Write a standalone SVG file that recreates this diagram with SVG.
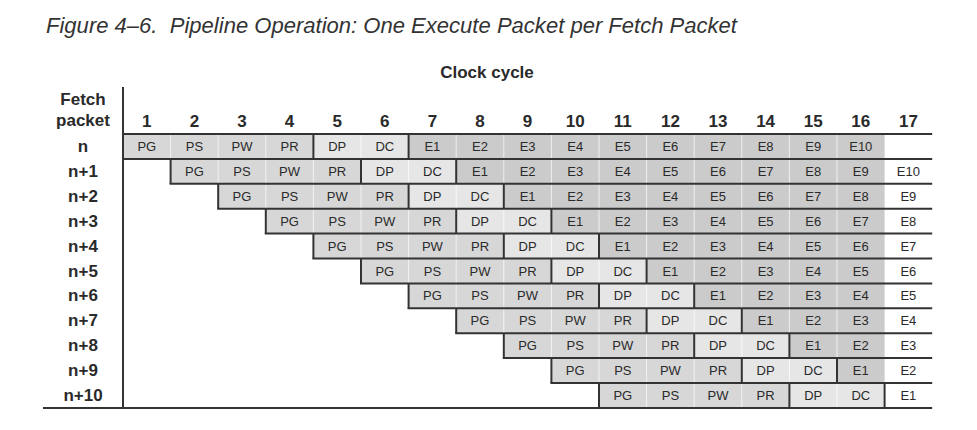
<svg xmlns="http://www.w3.org/2000/svg" width="977" height="430" viewBox="0 0 977 430">
<style>
.t{font-family:"Liberation Sans",Arial,sans-serif;fill:#2a2a2a}
.title{font-size:22px;font-style:italic;white-space:pre;fill:#333}
.h{font-size:17px;font-weight:bold;text-anchor:middle}
.c{font-size:13px;text-anchor:middle}
.m{fill:#d7d7d7}
.l{fill:#e6e6e6}
.d{fill:#cbcbcb}
.sep{stroke:#ffffff;stroke-width:1;stroke-opacity:0.7}
.dk{stroke:#333;stroke-width:2}
.hl{stroke:#333;stroke-width:2}
</style>
<rect width="977" height="430" fill="#fff"/>
<text id="title" class="t title" x="46" y="33" textLength="691" lengthAdjust="spacingAndGlyphs">Figure 4–6.  Pipeline Operation: One Execute Packet per Fetch Packet</text>
<g id="header">
<text class="t h" x="487" y="78">Clock cycle</text>
<text class="t h" x="83" y="105">Fetch</text>
<text class="t h" x="83" y="126">packet</text>
<text class="t h" x="146.8" y="127">1</text>
<text class="t h" x="194.4" y="127">2</text>
<text class="t h" x="242" y="127">3</text>
<text class="t h" x="289.6" y="127">4</text>
<text class="t h" x="337.2" y="127">5</text>
<text class="t h" x="384.8" y="127">6</text>
<text class="t h" x="432.4" y="127">7</text>
<text class="t h" x="480" y="127">8</text>
<text class="t h" x="527.6" y="127">9</text>
<text class="t h" x="575.2" y="127">10</text>
<text class="t h" x="622.8" y="127">11</text>
<text class="t h" x="670.4" y="127">12</text>
<text class="t h" x="718" y="127">13</text>
<text class="t h" x="765.6" y="127">14</text>
<text class="t h" x="813.2" y="127">15</text>
<text class="t h" x="860.8" y="127">16</text>
<text class="t h" x="908.4" y="127">17</text>
</g>
<g id="fills">
<g transform="translate(0,134)"><rect class="m" x="123" y="0" width="190.4" height="24.9"/><rect class="l" x="313.4" y="0" width="95.2" height="24.9"/><rect class="d" x="408.6" y="0" width="476" height="24.9"/></g>
<g transform="translate(0,158.9)"><rect class="m" x="170.6" y="0" width="190.4" height="24.9"/><rect class="l" x="361" y="0" width="95.2" height="24.9"/><rect class="d" x="456.2" y="0" width="428.4" height="24.9"/></g>
<g transform="translate(0,183.8)"><rect class="m" x="218.2" y="0" width="190.4" height="24.9"/><rect class="l" x="408.6" y="0" width="95.2" height="24.9"/><rect class="d" x="503.8" y="0" width="380.8" height="24.9"/></g>
<g transform="translate(0,208.7)"><rect class="m" x="265.8" y="0" width="190.4" height="24.9"/><rect class="l" x="456.2" y="0" width="95.2" height="24.9"/><rect class="d" x="551.4" y="0" width="333.2" height="24.9"/></g>
<g transform="translate(0,233.6)"><rect class="m" x="313.4" y="0" width="190.4" height="24.9"/><rect class="l" x="503.8" y="0" width="95.2" height="24.9"/><rect class="d" x="599" y="0" width="285.6" height="24.9"/></g>
<g transform="translate(0,258.5)"><rect class="m" x="361" y="0" width="190.4" height="24.9"/><rect class="l" x="551.4" y="0" width="95.2" height="24.9"/><rect class="d" x="646.6" y="0" width="238" height="24.9"/></g>
<g transform="translate(0,283.4)"><rect class="m" x="408.6" y="0" width="190.4" height="24.9"/><rect class="l" x="599" y="0" width="95.2" height="24.9"/><rect class="d" x="694.2" y="0" width="190.4" height="24.9"/></g>
<g transform="translate(0,308.3)"><rect class="m" x="456.2" y="0" width="190.4" height="24.9"/><rect class="l" x="646.6" y="0" width="95.2" height="24.9"/><rect class="d" x="741.8" y="0" width="142.8" height="24.9"/></g>
<g transform="translate(0,333.2)"><rect class="m" x="503.8" y="0" width="190.4" height="24.9"/><rect class="l" x="694.2" y="0" width="95.2" height="24.9"/><rect class="d" x="789.4" y="0" width="95.2" height="24.9"/></g>
<g transform="translate(0,358.1)"><rect class="m" x="551.4" y="0" width="190.4" height="24.9"/><rect class="l" x="741.8" y="0" width="95.2" height="24.9"/><rect class="d" x="837" y="0" width="47.6" height="24.9"/></g>
<g transform="translate(0,383)"><rect class="m" x="599" y="0" width="190.4" height="24.9"/><rect class="l" x="789.4" y="0" width="95.2" height="24.9"/></g>
</g>
<g id="connectors">
<g class="sep">
<line x1="170.6" y1="134" x2="170.6" y2="408"/><line x1="218.2" y1="134" x2="218.2" y2="408"/><line x1="265.8" y1="134" x2="265.8" y2="408"/><line x1="313.4" y1="134" x2="313.4" y2="408"/><line x1="361" y1="134" x2="361" y2="408"/><line x1="408.6" y1="134" x2="408.6" y2="408"/><line x1="456.2" y1="134" x2="456.2" y2="408"/><line x1="503.8" y1="134" x2="503.8" y2="408"/><line x1="551.4" y1="134" x2="551.4" y2="408"/><line x1="599" y1="134" x2="599" y2="408"/><line x1="646.6" y1="134" x2="646.6" y2="408"/><line x1="694.2" y1="134" x2="694.2" y2="408"/><line x1="741.8" y1="134" x2="741.8" y2="408"/><line x1="789.4" y1="134" x2="789.4" y2="408"/><line x1="837" y1="134" x2="837" y2="408"/>
</g>
<g class="dk">
<line x1="313.4" y1="134" x2="313.4" y2="158.9"/><line x1="408.6" y1="134" x2="408.6" y2="158.9"/>
<line x1="170.6" y1="158.9" x2="170.6" y2="183.8"/><line x1="361" y1="158.9" x2="361" y2="183.8"/><line x1="456.2" y1="158.9" x2="456.2" y2="183.8"/>
<line x1="218.2" y1="183.8" x2="218.2" y2="208.7"/><line x1="408.6" y1="183.8" x2="408.6" y2="208.7"/><line x1="503.8" y1="183.8" x2="503.8" y2="208.7"/>
<line x1="265.8" y1="208.7" x2="265.8" y2="233.6"/><line x1="456.2" y1="208.7" x2="456.2" y2="233.6"/><line x1="551.4" y1="208.7" x2="551.4" y2="233.6"/>
<line x1="313.4" y1="233.6" x2="313.4" y2="258.5"/><line x1="503.8" y1="233.6" x2="503.8" y2="258.5"/><line x1="599" y1="233.6" x2="599" y2="258.5"/>
<line x1="361" y1="258.5" x2="361" y2="283.4"/><line x1="551.4" y1="258.5" x2="551.4" y2="283.4"/><line x1="646.6" y1="258.5" x2="646.6" y2="283.4"/>
<line x1="408.6" y1="283.4" x2="408.6" y2="308.3"/><line x1="599" y1="283.4" x2="599" y2="308.3"/><line x1="694.2" y1="283.4" x2="694.2" y2="308.3"/>
<line x1="456.2" y1="308.3" x2="456.2" y2="333.2"/><line x1="646.6" y1="308.3" x2="646.6" y2="333.2"/><line x1="741.8" y1="308.3" x2="741.8" y2="333.2"/>
<line x1="503.8" y1="333.2" x2="503.8" y2="358.1"/><line x1="694.2" y1="333.2" x2="694.2" y2="358.1"/><line x1="789.4" y1="333.2" x2="789.4" y2="358.1"/>
<line x1="551.4" y1="358.1" x2="551.4" y2="383"/><line x1="741.8" y1="358.1" x2="741.8" y2="383"/><line x1="837" y1="358.1" x2="837" y2="383"/>
<line x1="599" y1="383" x2="599" y2="407.9"/><line x1="789.4" y1="383" x2="789.4" y2="407.9"/><line x1="884.6" y1="383" x2="884.6" y2="407.9"/>
<line x1="123" y1="87" x2="123" y2="408.9"/>
</g>
<g class="hl">
<line x1="122" y1="134" x2="932.2" y2="134"/>
<line x1="122" y1="158.9" x2="932.2" y2="158.9"/>
<line x1="169.6" y1="183.8" x2="932.2" y2="183.8"/>
<line x1="217.2" y1="208.7" x2="932.2" y2="208.7"/>
<line x1="264.8" y1="233.6" x2="932.2" y2="233.6"/>
<line x1="312.4" y1="258.5" x2="932.2" y2="258.5"/>
<line x1="360" y1="283.4" x2="932.2" y2="283.4"/>
<line x1="407.6" y1="308.3" x2="932.2" y2="308.3"/>
<line x1="455.2" y1="333.2" x2="932.2" y2="333.2"/>
<line x1="502.8" y1="358.1" x2="932.2" y2="358.1"/>
<line x1="550.4" y1="383" x2="932.2" y2="383"/>
<line x1="43" y1="407.9" x2="932.2" y2="407.9"/>
</g>
</g>
<g id="row-n" transform="translate(0,134)">
<text class="t h" x="83" y="18">n</text>
<text class="t c" x="146.8" y="17">PG</text><text class="t c" x="194.4" y="17">PS</text><text class="t c" x="242" y="17">PW</text><text class="t c" x="289.6" y="17">PR</text><text class="t c" x="337.2" y="17">DP</text><text class="t c" x="384.8" y="17">DC</text><text class="t c" x="432.4" y="17">E1</text><text class="t c" x="480" y="17">E2</text><text class="t c" x="527.6" y="17">E3</text><text class="t c" x="575.2" y="17">E4</text><text class="t c" x="622.8" y="17">E5</text><text class="t c" x="670.4" y="17">E6</text><text class="t c" x="718" y="17">E7</text><text class="t c" x="765.6" y="17">E8</text><text class="t c" x="813.2" y="17">E9</text><text class="t c" x="860.8" y="17">E10</text>
</g>
<g id="row-n1" transform="translate(0,158.9)">
<text class="t h" x="83" y="18">n+1</text>
<text class="t c" x="194.4" y="17">PG</text><text class="t c" x="242" y="17">PS</text><text class="t c" x="289.6" y="17">PW</text><text class="t c" x="337.2" y="17">PR</text><text class="t c" x="384.8" y="17">DP</text><text class="t c" x="432.4" y="17">DC</text><text class="t c" x="480" y="17">E1</text><text class="t c" x="527.6" y="17">E2</text><text class="t c" x="575.2" y="17">E3</text><text class="t c" x="622.8" y="17">E4</text><text class="t c" x="670.4" y="17">E5</text><text class="t c" x="718" y="17">E6</text><text class="t c" x="765.6" y="17">E7</text><text class="t c" x="813.2" y="17">E8</text><text class="t c" x="860.8" y="17">E9</text><text class="t c" x="908.4" y="17">E10</text>
</g>
<g id="row-n2" transform="translate(0,183.8)">
<text class="t h" x="83" y="18">n+2</text>
<text class="t c" x="242" y="17">PG</text><text class="t c" x="289.6" y="17">PS</text><text class="t c" x="337.2" y="17">PW</text><text class="t c" x="384.8" y="17">PR</text><text class="t c" x="432.4" y="17">DP</text><text class="t c" x="480" y="17">DC</text><text class="t c" x="527.6" y="17">E1</text><text class="t c" x="575.2" y="17">E2</text><text class="t c" x="622.8" y="17">E3</text><text class="t c" x="670.4" y="17">E4</text><text class="t c" x="718" y="17">E5</text><text class="t c" x="765.6" y="17">E6</text><text class="t c" x="813.2" y="17">E7</text><text class="t c" x="860.8" y="17">E8</text><text class="t c" x="908.4" y="17">E9</text>
</g>
<g id="row-n3" transform="translate(0,208.7)">
<text class="t h" x="83" y="18">n+3</text>
<text class="t c" x="289.6" y="17">PG</text><text class="t c" x="337.2" y="17">PS</text><text class="t c" x="384.8" y="17">PW</text><text class="t c" x="432.4" y="17">PR</text><text class="t c" x="480" y="17">DP</text><text class="t c" x="527.6" y="17">DC</text><text class="t c" x="575.2" y="17">E1</text><text class="t c" x="622.8" y="17">E2</text><text class="t c" x="670.4" y="17">E3</text><text class="t c" x="718" y="17">E4</text><text class="t c" x="765.6" y="17">E5</text><text class="t c" x="813.2" y="17">E6</text><text class="t c" x="860.8" y="17">E7</text><text class="t c" x="908.4" y="17">E8</text>
</g>
<g id="row-n4" transform="translate(0,233.6)">
<text class="t h" x="83" y="18">n+4</text>
<text class="t c" x="337.2" y="17">PG</text><text class="t c" x="384.8" y="17">PS</text><text class="t c" x="432.4" y="17">PW</text><text class="t c" x="480" y="17">PR</text><text class="t c" x="527.6" y="17">DP</text><text class="t c" x="575.2" y="17">DC</text><text class="t c" x="622.8" y="17">E1</text><text class="t c" x="670.4" y="17">E2</text><text class="t c" x="718" y="17">E3</text><text class="t c" x="765.6" y="17">E4</text><text class="t c" x="813.2" y="17">E5</text><text class="t c" x="860.8" y="17">E6</text><text class="t c" x="908.4" y="17">E7</text>
</g>
<g id="row-n5" transform="translate(0,258.5)">
<text class="t h" x="83" y="18">n+5</text>
<text class="t c" x="384.8" y="17">PG</text><text class="t c" x="432.4" y="17">PS</text><text class="t c" x="480" y="17">PW</text><text class="t c" x="527.6" y="17">PR</text><text class="t c" x="575.2" y="17">DP</text><text class="t c" x="622.8" y="17">DC</text><text class="t c" x="670.4" y="17">E1</text><text class="t c" x="718" y="17">E2</text><text class="t c" x="765.6" y="17">E3</text><text class="t c" x="813.2" y="17">E4</text><text class="t c" x="860.8" y="17">E5</text><text class="t c" x="908.4" y="17">E6</text>
</g>
<g id="row-n6" transform="translate(0,283.4)">
<text class="t h" x="83" y="18">n+6</text>
<text class="t c" x="432.4" y="17">PG</text><text class="t c" x="480" y="17">PS</text><text class="t c" x="527.6" y="17">PW</text><text class="t c" x="575.2" y="17">PR</text><text class="t c" x="622.8" y="17">DP</text><text class="t c" x="670.4" y="17">DC</text><text class="t c" x="718" y="17">E1</text><text class="t c" x="765.6" y="17">E2</text><text class="t c" x="813.2" y="17">E3</text><text class="t c" x="860.8" y="17">E4</text><text class="t c" x="908.4" y="17">E5</text>
</g>
<g id="row-n7" transform="translate(0,308.3)">
<text class="t h" x="83" y="18">n+7</text>
<text class="t c" x="480" y="17">PG</text><text class="t c" x="527.6" y="17">PS</text><text class="t c" x="575.2" y="17">PW</text><text class="t c" x="622.8" y="17">PR</text><text class="t c" x="670.4" y="17">DP</text><text class="t c" x="718" y="17">DC</text><text class="t c" x="765.6" y="17">E1</text><text class="t c" x="813.2" y="17">E2</text><text class="t c" x="860.8" y="17">E3</text><text class="t c" x="908.4" y="17">E4</text>
</g>
<g id="row-n8" transform="translate(0,333.2)">
<text class="t h" x="83" y="18">n+8</text>
<text class="t c" x="527.6" y="17">PG</text><text class="t c" x="575.2" y="17">PS</text><text class="t c" x="622.8" y="17">PW</text><text class="t c" x="670.4" y="17">PR</text><text class="t c" x="718" y="17">DP</text><text class="t c" x="765.6" y="17">DC</text><text class="t c" x="813.2" y="17">E1</text><text class="t c" x="860.8" y="17">E2</text><text class="t c" x="908.4" y="17">E3</text>
</g>
<g id="row-n9" transform="translate(0,358.1)">
<text class="t h" x="83" y="18">n+9</text>
<text class="t c" x="575.2" y="17">PG</text><text class="t c" x="622.8" y="17">PS</text><text class="t c" x="670.4" y="17">PW</text><text class="t c" x="718" y="17">PR</text><text class="t c" x="765.6" y="17">DP</text><text class="t c" x="813.2" y="17">DC</text><text class="t c" x="860.8" y="17">E1</text><text class="t c" x="908.4" y="17">E2</text>
</g>
<g id="row-n10" transform="translate(0,383)">
<text class="t h" x="83" y="18">n+10</text>
<text class="t c" x="622.8" y="17">PG</text><text class="t c" x="670.4" y="17">PS</text><text class="t c" x="718" y="17">PW</text><text class="t c" x="765.6" y="17">PR</text><text class="t c" x="813.2" y="17">DP</text><text class="t c" x="860.8" y="17">DC</text><text class="t c" x="908.4" y="17">E1</text>
</g>
</svg>
